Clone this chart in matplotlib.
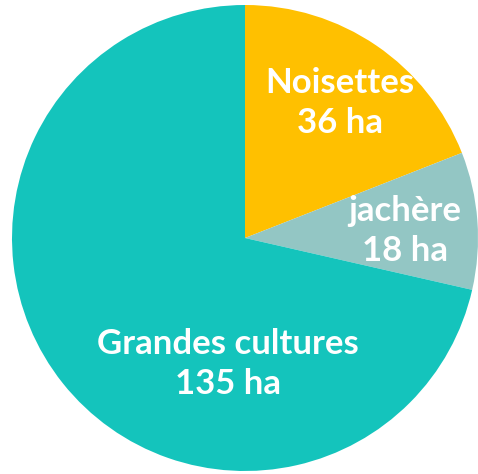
import matplotlib.pyplot as plt

labels = ["Noisettes", "jachère", "Grandes cultures"]
surfaces = [36, 18, 135]
colors = ["#FFC000", "#93C6C4", "#14C4BC"]

# label positions in pixels (x, y from top)
label_pos = [(340, 103), (405, 231), (228, 364)]

W, H = 478, 474
fig = plt.figure(figsize=(W / 100, H / 100), dpi=100)
ax = fig.add_axes([0, 0, 1, 1])

ax.pie(surfaces, colors=colors, startangle=90, counterclock=False,
       center=(245, H - 238), radius=233, frame=True,
       wedgeprops=dict(linewidth=0))
ax.set_xlim(0, W)
ax.set_ylim(0, H)
ax.set_aspect("equal")
ax.axis("off")

for lab, val, (x, y) in zip(labels, surfaces, label_pos):
    ax.text(x, H - y, f"{lab}\n{val} ha", ha="center", va="center",
            color="white", fontsize=25, fontweight="bold", family="Lato",
            linespacing=1.3)

fig.savefig("out.png", dpi=100)
